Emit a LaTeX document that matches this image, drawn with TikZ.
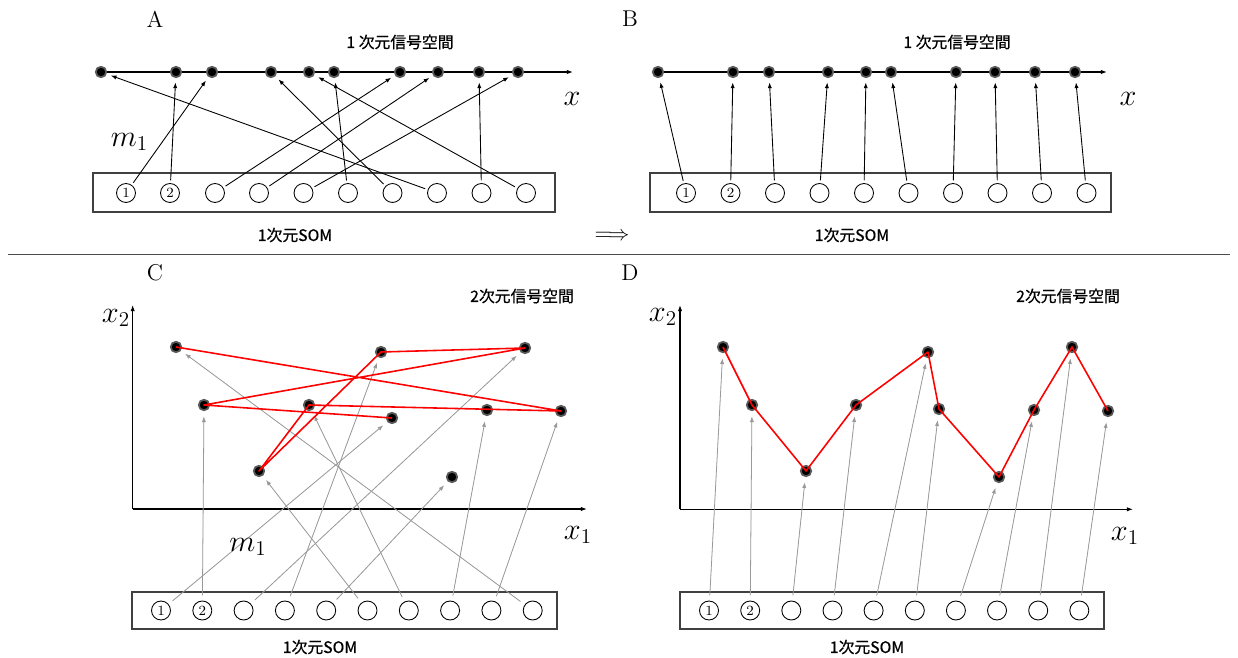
\documentclass[tikz,border=0pt]{standalone}
\usepackage{amsmath,amssymb}
\usepackage{fontspec}
\usepackage{tikz}
\usetikzlibrary{arrows.meta}
\newfontfamily\jpfont[FakeBold=0.6]{Noto Sans CJK JP}

\begin{document}
\begin{tikzpicture}[x=0.02cm, y=-0.02cm,
  every node/.style={font=\small},
  sigdot/.style={circle, fill=black, draw=black!65, line width=1pt, minimum size=0.21cm, inner sep=0pt},
  unitc/.style={circle, draw, line width=0.5pt, minimum size=0.38cm, inner sep=0pt, font=\fontsize{8}{9}\selectfont},
  sombox/.style={draw=black!75, line width=0.6pt},
  maparrow/.style={-{Latex[length=3.2pt,width=2.4pt]}, line width=0.5pt, shorten <=1.5pt, shorten >=2.5pt},
  graymap/.style={maparrow, draw=black!40, fill=black!40, line width=0.45pt, shorten <=3pt, shorten >=3pt},
  axisline/.style={-{Latex[length=3.5pt,width=2.5pt]}, line width=0.6pt},
  redline/.style={red, line width=0.9pt, line join=round},
  bigmath/.style={font=\fontsize{17.28}{20}\selectfont},
  lettertag/.style={font=\fontsize{13}{15}\selectfont},
  jp/.style={font=\jpfont\fontsize{9}{11}\selectfont}]
  \useasboundingbox (0,0) rectangle (1238,658);

  % ---- A ----
  \draw[sombox] (93,173) rectangle (555,212);
  \coordinate (a0) at (98,72);
  \coordinate (ax) at (573,72);
  \draw[axisline] (a0) -- (ax);
  \node[sigdot] (a1) at (101,72) {};
  \node[sigdot] (a2) at (176,72) {};
  \node[sigdot] (a3) at (212,72) {};
  \node[sigdot] (a4) at (271,72) {};
  \node[sigdot] (a5) at (309,72) {};
  \node[sigdot] (a6) at (334,72) {};
  \node[sigdot] (a7) at (400,72) {};
  \node[sigdot] (a8) at (438,72) {};
  \node[sigdot] (a9) at (479,72) {};
  \node[sigdot] (a10) at (518,72) {};
  \node[unitc] (sa1) at (126,193) {1};
  \node[unitc] (sa2) at (170,193) {2};
  \node[unitc] (sa3) at (215,193) {};
  \node[unitc] (sa4) at (259,193) {};
  \node[unitc] (sa5) at (303.5,193) {};
  \node[unitc] (sa6) at (348,193) {};
  \node[unitc] (sa7) at (392.5,193) {};
  \node[unitc] (sa8) at (437,193) {};
  \node[unitc] (sa9) at (481.5,193) {};
  \node[unitc] (sa10) at (526,193) {};
  \draw[maparrow] (sa1) -- (a3);
  \draw[maparrow] (sa2) -- (a2);
  \draw[maparrow] (sa3) -- (a7);
  \draw[maparrow] (sa4) -- (a8);
  \draw[maparrow] (sa5) -- (a10);
  \draw[maparrow] (sa6) -- (a6);
  \draw[maparrow] (sa7) -- (a4);
  \draw[maparrow] (sa8) -- (a1);
  \draw[maparrow] (sa9) -- (a9);
  \draw[maparrow] (sa10) -- (a5);
  \node[lettertag] (tagA) at (155,19) {A};
  \node[jp] (spaceA) at (400,42) {1 次元信号空間};
  \node[bigmath] (xA) at (572,98.5) {$x$};
  \node[bigmath] (mA) at (129.5,142) {$m_1$};
  \node[jp] (somA) at (295,235) {1次元SOM};

  % ---- B ----
  \draw[sombox] (650,173) rectangle (1111,212);
  \coordinate (b0) at (655,72);
  \coordinate (bx) at (1107,72);
  \draw[axisline] (b0) -- (bx);
  \node[sigdot] (b1) at (658,72) {};
  \node[sigdot] (b2) at (733,72) {};
  \node[sigdot] (b3) at (769,72) {};
  \node[sigdot] (b4) at (828,72) {};
  \node[sigdot] (b5) at (866,72) {};
  \node[sigdot] (b6) at (891,72) {};
  \node[sigdot] (b7) at (956,72) {};
  \node[sigdot] (b8) at (995,72) {};
  \node[sigdot] (b9) at (1035,72) {};
  \node[sigdot] (b10) at (1075,72) {};
  \node[unitc] (sb1) at (686,193) {1};
  \node[unitc] (sb2) at (730.5,193) {2};
  \node[unitc] (sb3) at (775,193) {};
  \node[unitc] (sb4) at (819.5,193) {};
  \node[unitc] (sb5) at (864,193) {};
  \node[unitc] (sb6) at (908.5,193) {};
  \node[unitc] (sb7) at (953,193) {};
  \node[unitc] (sb8) at (997.5,193) {};
  \node[unitc] (sb9) at (1042,193) {};
  \node[unitc] (sb10) at (1086.5,193) {};
  \draw[maparrow] (sb1) -- (b1);
  \draw[maparrow] (sb2) -- (b2);
  \draw[maparrow] (sb3) -- (b3);
  \draw[maparrow] (sb4) -- (b4);
  \draw[maparrow] (sb5) -- (b5);
  \draw[maparrow] (sb6) -- (b6);
  \draw[maparrow] (sb7) -- (b7);
  \draw[maparrow] (sb8) -- (b8);
  \draw[maparrow] (sb9) -- (b9);
  \draw[maparrow] (sb10) -- (b10);
  \node[lettertag] (tagB) at (630,19) {B};
  \node[jp] (spaceB) at (957,42) {1 次元信号空間};
  \node[bigmath] (xB) at (1128,98.5) {$x$};
  \node[jp] (somB) at (852,235) {1次元SOM};
  \node[font=\fontsize{13}{15}\selectfont] (imp) at (612,236) {$\Longrightarrow$};

  \draw[black!70, line width=0.5pt] (8,254) -- (1230,254);

  % ---- C ----
  \draw[sombox] (132,592) rectangle (557,629);
  \coordinate (oc) at (132.7,509);
  \coordinate (yc) at (132.7,305);
  \coordinate (xc) at (587,509);
  \draw[axisline] (oc) -- (yc);
  \draw[axisline] (oc) -- (xc);
  \node[sigdot] (p1) at (176,347) {};
  \node[sigdot] (p2) at (381,352) {};
  \node[sigdot] (p3) at (525,348) {};
  \node[sigdot] (p4) at (204,405) {};
  \node[sigdot] (p5) at (309,405) {};
  \node[sigdot] (p6) at (392,418) {};
  \node[sigdot] (p7) at (487,410) {};
  \node[sigdot] (p8) at (561,411) {};
  \node[sigdot] (p9) at (259,471) {};
  \node[sigdot] (p10) at (452,477) {};
  \node[unitc] (sc1) at (161,610.5) {1};
  \node[unitc] (sc2) at (202.3,610.5) {2};
  \node[unitc] (sc3) at (243.6,610.5) {};
  \node[unitc] (sc4) at (284.9,610.5) {};
  \node[unitc] (sc5) at (326.2,610.5) {};
  \node[unitc] (sc6) at (367.5,610.5) {};
  \node[unitc] (sc7) at (408.8,610.5) {};
  \node[unitc] (sc8) at (450.1,610.5) {};
  \node[unitc] (sc9) at (491.4,610.5) {};
  \node[unitc] (sc10) at (532.7,610.5) {};
  \draw[graymap] (sc1) -- (p6);
  \draw[graymap] (sc2) -- (p4);
  \draw[graymap] (sc3) -- (p3);
  \draw[graymap] (sc4) -- (p2);
  \draw[graymap] (sc5) -- (p10);
  \draw[graymap] (sc6) -- (p9);
  \draw[graymap] (sc7) -- (p5);
  \draw[graymap] (sc8) -- (p7);
  \draw[graymap] (sc9) -- (p8);
  \draw[graymap] (sc10) -- (p1);
  \draw[redline] (p1.center) -- (p8.center) -- (p5.center) -- (p9.center) -- (p2.center)
    -- (p3.center) -- (p4.center) -- (p6.center);
  \node[lettertag] (tagC) at (155,273) {C};
  \node[jp] (spaceC) at (522,296) {2次元信号空間};
  \node[bigmath] (x2C) at (116,318) {$x_2$};
  \node[bigmath] (x1C) at (578,535) {$x_1$};
  \node[bigmath] (mC) at (248,547) {$m_1$};
  \node[jp] (somC) at (320,647) {1次元SOM};

  % ---- D ----
  \draw[sombox] (680,592) rectangle (1104,629);
  \coordinate (od) at (680,509.3);
  \coordinate (yd) at (680,305);
  \coordinate (xd) at (1133,509.3);
  \draw[axisline] (od) -- (yd);
  \draw[axisline] (od) -- (xd);
  \node[sigdot] (q1) at (723,347) {};
  \node[sigdot] (q2) at (752,405) {};
  \node[sigdot] (q3) at (806,471) {};
  \node[sigdot] (q4) at (856,405) {};
  \node[sigdot] (q5) at (928,352) {};
  \node[sigdot] (q6) at (939,409) {};
  \node[sigdot] (q7) at (999,477) {};
  \node[sigdot] (q8) at (1034,410) {};
  \node[sigdot] (q9) at (1072,347) {};
  \node[sigdot] (q10) at (1108,411) {};
  \node[unitc] (sd1) at (709,610.5) {1};
  \node[unitc] (sd2) at (750.2,610.5) {2};
  \node[unitc] (sd3) at (791.3,610.5) {};
  \node[unitc] (sd4) at (832.5,610.5) {};
  \node[unitc] (sd5) at (873.6,610.5) {};
  \node[unitc] (sd6) at (914.8,610.5) {};
  \node[unitc] (sd7) at (955.9,610.5) {};
  \node[unitc] (sd8) at (997,610.5) {};
  \node[unitc] (sd9) at (1038.2,610.5) {};
  \node[unitc] (sd10) at (1079.3,610.5) {};
  \draw[graymap] (sd1) -- (q1);
  \draw[graymap] (sd2) -- (q2);
  \draw[graymap] (sd3) -- (q3);
  \draw[graymap] (sd4) -- (q4);
  \draw[graymap] (sd5) -- (q5);
  \draw[graymap] (sd6) -- (q6);
  \draw[graymap] (sd7) -- (q7);
  \draw[graymap] (sd8) -- (q8);
  \draw[graymap] (sd9) -- (q9);
  \draw[graymap] (sd10) -- (q10);
  \draw[redline] (q1.center) -- (q2.center) -- (q3.center) -- (q4.center) -- (q5.center)
    -- (q6.center) -- (q7.center) -- (q8.center) -- (q9.center) -- (q10.center);
  \node[lettertag] (tagD) at (630,273) {D};
  \node[jp] (spaceD) at (1068,296) {2次元信号空間};
  \node[bigmath] (x2D) at (663,317) {$x_2$};
  \node[bigmath] (x1D) at (1125,536) {$x_1$};
  \node[jp] (somD) at (867,647) {1次元SOM};
\end{tikzpicture}
\end{document}
